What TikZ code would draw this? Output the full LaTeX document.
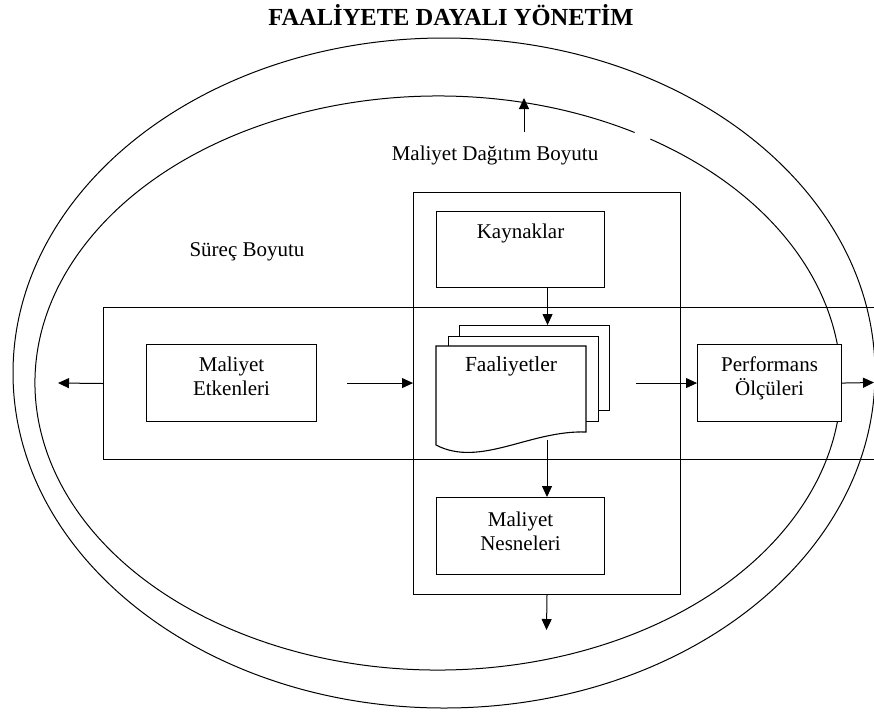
\documentclass[tikz,border=0pt]{standalone}
\usepackage{fontspec}
\setmainfont{Liberation Serif}
\usetikzlibrary{arrows.meta}
\newcommand\lblfont{\fontsize{21}{24}\selectfont}
\newcommand\ttlfont{\fontsize{24.5}{26}\selectfont\bfseries}
\begin{document}
\begin{tikzpicture}[x=1pt,y=-1pt,
  lw/.style={line width=1pt},
  boxn/.style={draw, line width=1.1pt, fill=white, minimum width=168pt, minimum height=77pt, inner sep=0pt, anchor=north west},
  pagen/.style={draw, line width=1.1pt, fill=white, minimum width=150pt, minimum height=85pt, inner sep=0pt, anchor=north west},
  lab/.style={font=\lblfont, align=center, inner sep=0pt},
  arr/.style={line width=1pt, -{Triangle[length=11pt,width=10pt]}},
]
\useasboundingbox (0,0) rectangle (874,713);
% title
\node[font=\ttlfont, anchor=base, inner sep=0pt] (title) at (451,25) {FAALİYETE DAYALI YÖNETİM};
% ellipses
\coordinate (oc) at (444,373);
\coordinate (ic) at (438,383);
\draw[lw] (oc) ellipse [x radius=431pt, y radius=335pt];
\draw[lw] ([shift={(60.8:403pt and 287pt)}]ic) arc[start angle=60.8, end angle=418.2, x radius=403pt, y radius=287pt];
% process band and cost allocation column
\node[draw, lw, minimum width=790pt, minimum height=152pt, inner sep=0pt, anchor=north west] (band) at (103,307) {};
\node[draw, lw, minimum width=267pt, minimum height=402pt, inner sep=0pt, anchor=north west] (vbox) at (413,192) {};
% dimension labels
\node[lab, anchor=base] (mdb) at (495,160) {Maliyet Dağıtım Boyutu};
\node[lab, anchor=base] (sb) at (247,256) {Süreç Boyutu};
% boxes
\node[boxn, minimum height=76pt] (kay) at (436,211) {};
\node[boxn, minimum width=170pt] (etk) at (146,344) {};
\node[boxn, minimum width=144pt] (perf) at (697,344) {};
\node[boxn] (nes) at (436,497) {};
\node[lab, anchor=north] at ([yshift=-12.5pt]kay.north) {Kaynaklar};
\node[lab, anchor=north] at ([yshift=-12.5pt]etk.north) {Maliyet\\Etkenleri};
\node[lab, anchor=north] at ([yshift=-12.5pt]perf.north) {Performans\\Ölçüleri};
\node[lab, anchor=north] at ([yshift=-14.5pt]nes.north) {Maliyet\\Nesneleri};
% activity pages
\node[pagen] (back) at (459,325) {};
\node[pagen] (mid) at (448,336) {};
\draw[line width=1.1pt, fill=white] (436,346) -- (586,346) -- (586,432) .. controls (530,430) and (480,468) .. (436,445) -- cycle;
\node[lab, anchor=north, font=\fontsize{21.5}{24}\selectfont] (faal) at (511,356.5) {Faaliyetler};
% connectors
\coordinate (upS) at (524,132);
\coordinate (upE) at (524,98);
\draw[arr] (upS) -- (upE);
\coordinate (leftE) at (58,383);
\draw[arr] (band.west) -- (leftE);
\draw[arr] ([xshift=30pt]etk.east) -- (etk.east -| vbox.west);
\coordinate (fp) at ([xshift=26pt]back.east);
\draw[arr] (fp |- perf.west) -- (perf.west);
\coordinate (rightE) at (874,382.5);
\draw[arr] (perf.east) -- (rightE);
\coordinate (ka) at ([xshift=27pt]kay.south);
\draw[arr] (ka) -- (ka |- back.north);
\coordinate (fbot) at (547,440);
\draw[arr] (fbot) -- (fbot |- nes.north);
\coordinate (downE) at (546.5,630);
\draw[arr] (vbox.south) -- (downE);
\end{tikzpicture}
\end{document}
